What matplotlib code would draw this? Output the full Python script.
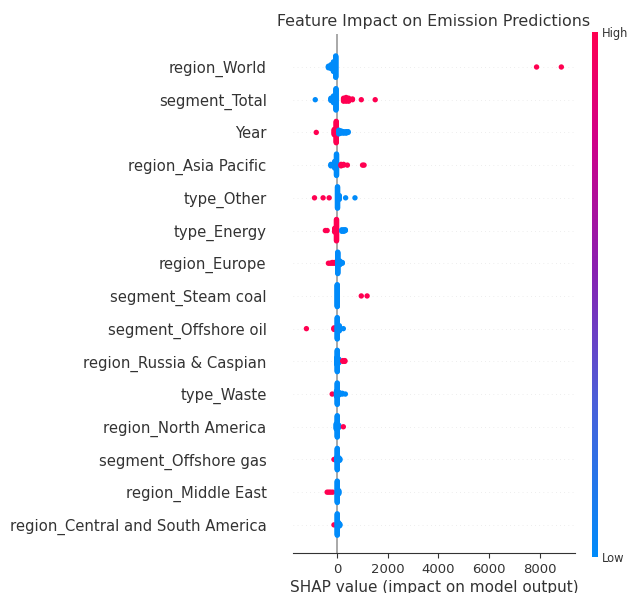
"""SHAP beeswarm summary of feature impact on emission predictions."""
import numpy as np
import matplotlib
matplotlib.use("Agg")
import matplotlib.pyplot as plt
from matplotlib.colors import LinearSegmentedColormap

# feature names, top row first
features = [
    "region_World", "segment_Total", "Year", "region_Asia Pacific",
    "type_Other", "type_Energy", "region_Europe", "segment_Steam coal",
    "segment_Offshore oil", "region_Russia & Caspian", "type_Waste",
    "region_North America", "segment_Offshore gas", "region_Middle East",
    "region_Central and South America",
]

# (shap value, feature value 0=low 1=high, number of samples)
world = [(-350, 0, 3), (-250, 0, 6), (-150, 0, 14), (-60, 0, 30), (7880, 1, 1), (8860, 1, 1)]
total = [(-870, 0, 1), (-250, 0, 4), (-150, 0, 10), (-50, 0, 30), (250, 1, 5), (350, 1, 6),
         (450, 1, 5), (600, 1, 2), (950, 1, 1), (1500, 1, 1)]
year = [(-830, 1, 1), (-120, 1, 8), (-40, 1, 30), (60, 0, 6), (150, 0, 4), (250, 0, 3),
        (350, 0, 3), (430, 0, 2)]
asia = [(-250, 0, 3), (-100, 0, 10), (-30, 0, 30), (150, 1, 3), (250, 1, 2), (400, 1, 1),
        (1000, 1, 1), (1060, 1, 1)]
other = [(-900, 1, 1), (-560, 1, 1), (-320, 1, 1), (10, 0, 30), (80, 0, 6), (330, 0, 1), (700, 0, 1)]
energy = [(-470, 1, 1), (-400, 1, 1), (-100, 1, 6), (-30, 1, 30), (180, 0, 3), (260, 0, 3), (320, 0, 2)]
europe = [(-350, 1, 1), (-280, 1, 1), (-200, 1, 2), (-120, 1, 2), (20, 0, 30), (100, 0, 6), (200, 0, 2)]
steam = [(0, 0, 40), (950, 1, 1), (1180, 1, 1)]
offshore_oil = [(-1220, 1, 1), (-130, 1, 3), (-60, 1, 3), (0, 0, 30), (80, 0, 8), (240, 0, 1)]
russia = [(-20, 0, 10), (0, 0, 30), (60, 0, 6), (220, 1, 2), (300, 1, 2)]
waste = [(-200, 1, 1), (-30, 0, 8), (0, 0, 30), (80, 0, 4), (200, 0, 2), (320, 0, 1)]
north_america = [(-40, 0, 8), (0, 0, 30), (60, 0, 4), (240, 1, 1)]
offshore_gas = [(-130, 1, 1), (-20, 0, 6), (0, 0, 30), (40, 0, 6), (100, 0, 3)]
middle_east = [(-400, 1, 1), (-330, 1, 1), (-260, 1, 1), (-180, 1, 1), (0, 0, 30), (60, 0, 5)]
central = [(-130, 1, 1), (0, 0, 30), (50, 0, 6), (100, 0, 3)]

rows = [world, total, year, asia, other, energy, europe, steam, offshore_oil,
        russia, waste, north_america, offshore_gas, middle_east, central]

xticks = [0, 2000, 4000, 6000, 8000]

# red/blue map going through purple
cmap = LinearSegmentedColormap.from_list("red_blue", [
    (0.0, "#008bfa"), (0.3, "#4c5ed8"), (0.55, "#8a1fb0"),
    (0.8, "#d10087"), (1.0, "#ff0051"),
])


def swarm_offsets(shaps, row_height=0.4, nbins=100):
    # stack points that fall in the same value bin, alternating up/down
    n = len(shaps)
    quant = np.round(nbins * (shaps - shaps.min()) / (shaps.max() - shaps.min() + 1e-8))
    inds = np.argsort(quant, kind="stable")
    ys = np.zeros(n)
    layer, last_bin = 0, -1
    for i in inds:
        if quant[i] != last_bin:
            layer = 0
        ys[i] = np.ceil(layer / 2) * ((layer % 2) * 2 - 1)
        layer += 1
        last_bin = quant[i]
    ys *= 0.9 * (row_height / np.max(ys + 1))
    return ys


fig = plt.figure(figsize=(6.34, 5.93), dpi=100)
ax = fig.add_axes([293 / 634, 1 - 553 / 593, 282 / 634, 518.7 / 593])

axis_color = "#333333"
n_rows = len(features)
ax.axvline(0, color="#999999", lw=1.2, zorder=-1)

for k, row in enumerate(rows):
    pos = n_rows - 1 - k
    shaps = np.repeat([r[0] for r in row], [r[2] for r in row]).astype(float)
    vals = np.repeat([r[1] for r in row], [r[2] for r in row]).astype(float)
    ax.axhline(pos, color="#dddddd", lw=0.5, dashes=(1, 5), zorder=-1)
    ys = swarm_offsets(shaps)
    ax.scatter(shaps, pos + ys, c=vals, cmap=cmap, vmin=0, vmax=1,
               s=15, linewidth=0, zorder=3)

ax.set_xlim(-1750, 9400)
ax.set_ylim(-0.86, 15)
ax.set_yticks(range(n_rows))
ax.set_yticklabels(features[::-1], fontsize=10.7)
ax.set_xticks(xticks)
ax.tick_params(axis="x", labelsize=9.5, color=axis_color, labelcolor=axis_color)
ax.tick_params(axis="y", length=0, pad=19, labelcolor=axis_color)
for side in ("top", "right", "left"):
    ax.spines[side].set_visible(False)
ax.spines["bottom"].set_color(axis_color)
ax.set_xlabel("SHAP value (impact on model output)", fontsize=11, color=axis_color, labelpad=3)
ax.set_title("Feature Impact on Emission Predictions", fontsize=11.4, color=axis_color, pad=6)

cax = fig.add_axes([592 / 634, 1 - 557 / 593, 6 / 634, 525 / 593])
sm = plt.cm.ScalarMappable(cmap=cmap, norm=plt.Normalize(0, 1))
cb = fig.colorbar(sm, cax=cax, ticks=[0, 1])
cb.set_ticklabels(["Low", "High"])
cb.ax.tick_params(labelsize=8.3, length=0, pad=3, labelcolor=axis_color)
cb.outline.set_visible(False)
cb.set_label("Feature value", size=9.5, labelpad=5, color=axis_color)

fig.savefig("out.png", dpi=100)
